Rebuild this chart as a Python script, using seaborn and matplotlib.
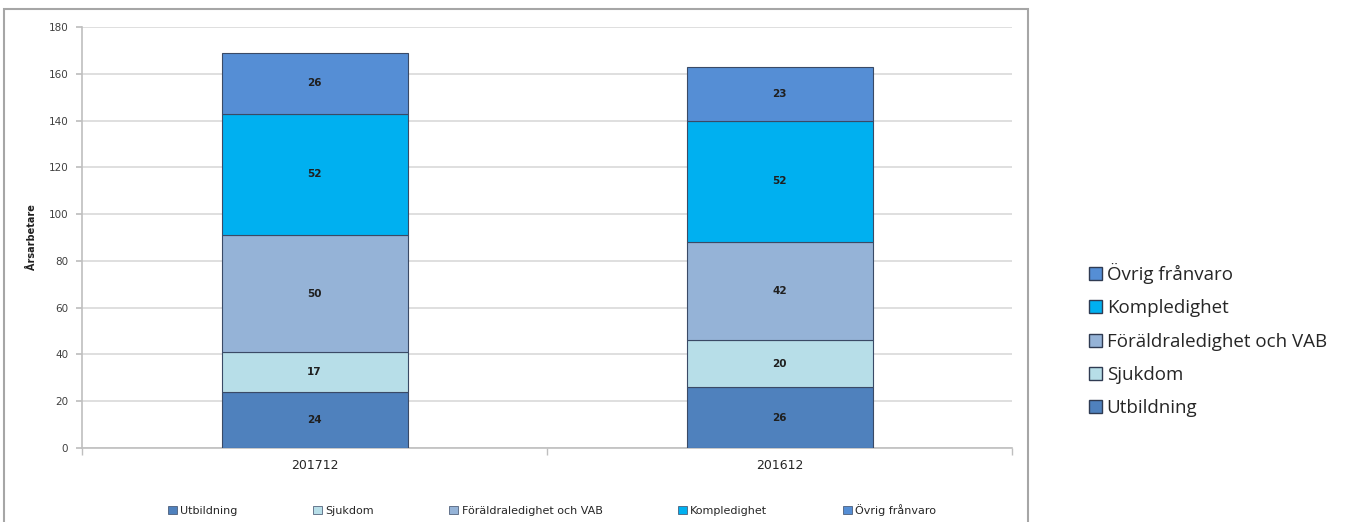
import matplotlib
matplotlib.use("Agg")
import matplotlib.pyplot as plt
from matplotlib.patches import Rectangle, Patch
import numpy as np
import pandas as pd
import seaborn as sns

categories = ["201712", "201612"]
series_names = ["Utbildning", "Sjukdom", "Föräldraledighet och VAB", "Kompledighet", "Övrig frånvaro"]
utbildning = [24, 26]
sjukdom = [17, 20]
foraldra = [50, 42]
kompledighet = [52, 52]
ovrig = [26, 23]
series_values = [utbildning, sjukdom, foraldra, kompledighet, ovrig]
colors = ["#4F81BD", "#B7DEE8", "#95B3D7", "#00B0F0", "#558ED5"]
y_label = "Årsarbetare"

sns.set_theme(style="white")
plt.rcParams["font.family"] = ["DejaVu Sans"]

fig = plt.figure(figsize=(13.71, 5.22), dpi=100)
W, H = 1371, 522
# outer chart frame
fig.patches.append(Rectangle((4 / W, -0.01), (1028 - 4) / W, (522 - 9) / H + 0.01,
                             transform=fig.transFigure, fill=False,
                             edgecolor="#A6A6A6", linewidth=1.5))

ax = fig.add_axes([82 / W, (522 - 448) / H, (1012 - 82) / W, (448 - 27) / H])

bottoms = np.zeros(len(categories))
for name, vals, col in zip(series_names, series_values, colors):
    df = pd.DataFrame({"cat": categories, "val": vals})
    sns.barplot(data=df, x="cat", y="val", order=categories, bottom=bottoms,
                color=col, width=0.4, edgecolor="#3A4A66", linewidth=0.8,
                saturation=1, ax=ax, zorder=3)
    for i, v in enumerate(vals):
        ax.text(i, bottoms[i] + v / 2, f"{v}", ha="center", va="center",
                fontsize=7.5, fontweight="bold", color="#1F1F1F", zorder=4)
    bottoms = bottoms + np.array(vals, dtype=float)

ax.set_ylim(0, 180)
ax.set_xlim(-0.5, 1.5)
ax.set_yticks(np.arange(0, 181, 20))
ax.tick_params(axis="y", labelsize=7.5, labelcolor="#404040", length=4,
               color="#BFBFBF", left=True, direction="out", pad=6)
ax.tick_params(axis="x", labelsize=9, labelcolor="#262626", length=0, pad=8)
ax.set_xticks([-0.5, 0.5, 1.5], minor=True)
ax.tick_params(axis="x", which="minor", length=5, color="#BFBFBF", bottom=True, direction="out")
ax.grid(axis="y", color="#D9D9D9", linewidth=1.2, zorder=0)
ax.set_axisbelow(True)
for s in ["top", "right"]:
    ax.spines[s].set_visible(False)
for s in ["left", "bottom"]:
    ax.spines[s].set_color("#BFBFBF")
    ax.spines[s].set_linewidth(1.2)
ax.set_xlabel("")
ax.set_ylabel(y_label, fontsize=7, fontweight="bold", color="#1F1F1F", labelpad=8)

# bottom legend
handles = [Patch(facecolor=c, edgecolor="#3A4A66", linewidth=0.5) for c in colors]
fig.legend(handles, series_names, loc="center", bbox_to_anchor=(552 / W, (522 - 510) / H),
           ncol=5, frameon=False, fontsize=8, handlelength=0.8, handleheight=0.8,
           handletextpad=0.3, columnspacing=6.8)

# right legend (reversed order)
handles_r = [Patch(facecolor=c, edgecolor="#2F3B52", linewidth=1.0) for c in colors]
fig.legend(handles_r[::-1], series_names[::-1], loc="upper left",
           bbox_to_anchor=(1072 / W, (522 - 246) / H), frameon=False,
           handlelength=0.7, handleheight=0.7, handletextpad=0.25,
           labelspacing=0.82, prop={"family": "Open Sans", "size": 13.5})

fig.savefig("out.png", dpi=100)
